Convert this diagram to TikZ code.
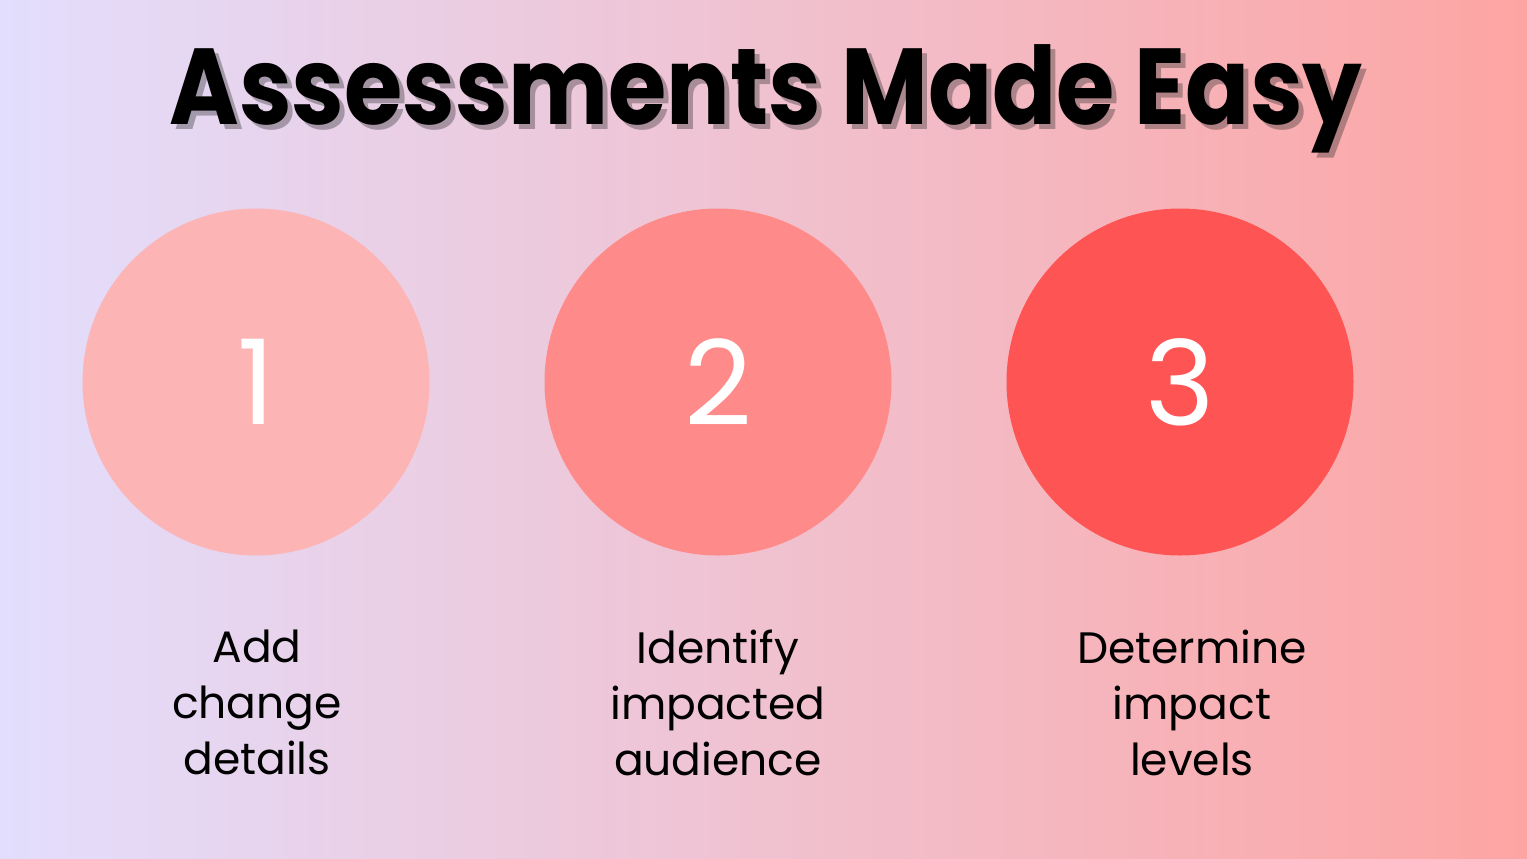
\documentclass[tikz,border=0pt]{standalone}
\usepackage{fontspec}
\setmainfont{Poppins}
\usetikzlibrary{shadings}
\definecolor{bgleft}{RGB}{227,222,253}
\definecolor{bgright}{RGB}{253,165,163}
\definecolor{cone}{RGB}{252,180,180}
\definecolor{ctwo}{RGB}{255,138,138}
\definecolor{cthree}{RGB}{255,84,84}
\newcommand{\titlestr}{\scalebox{0.875}[1]{Assessments Made Easy}}
\tikzset{
  stepcircle/.style={circle, minimum size=173.5pt, inner sep=0pt, draw=none},
  numtext/.style={text=white, font=\fontsize{59}{59}\selectfont},
  labeltext/.style={align=center, font=\fontsize{22}{28}\selectfont, text=black, anchor=north},
  titletext/.style={font=\bfseries\fontsize{54}{54}\selectfont}
}
\begin{document}
\begin{tikzpicture}[x=0.5pt,y=-0.5pt]
\useasboundingbox (0,0) rectangle (1527,858);
\shade[left color=bgleft, right color=bgright] (0,0) rectangle (1527,858);
% title with soft shadow
\node[titletext, text=black!70!gray, opacity=0.35] (titleshadow) at (771,104) {\titlestr};
\node[titletext, text=black] (title) at (766,99) {\titlestr};
% circles
\node[stepcircle, fill=cone] (c1) at (256,382) {};
\node[stepcircle, fill=ctwo] (c2) at (718,382) {};
\node[stepcircle, fill=cthree] (c3) at (1180,382) {};
\node[numtext] (n1) at (c1) {1};
\node[numtext] (n2) at (c2) {2};
\node[numtext] (n3) at (c3) {3};
% labels
\node[labeltext] (l1) at (257,623) {Add\\change\\details};
\node[labeltext] (l2) at (718,623) {Identify\\impacted\\audience};
\node[labeltext] (l3) at (1192,623) {Determine\\impact\\levels};
\end{tikzpicture}
\end{document}
